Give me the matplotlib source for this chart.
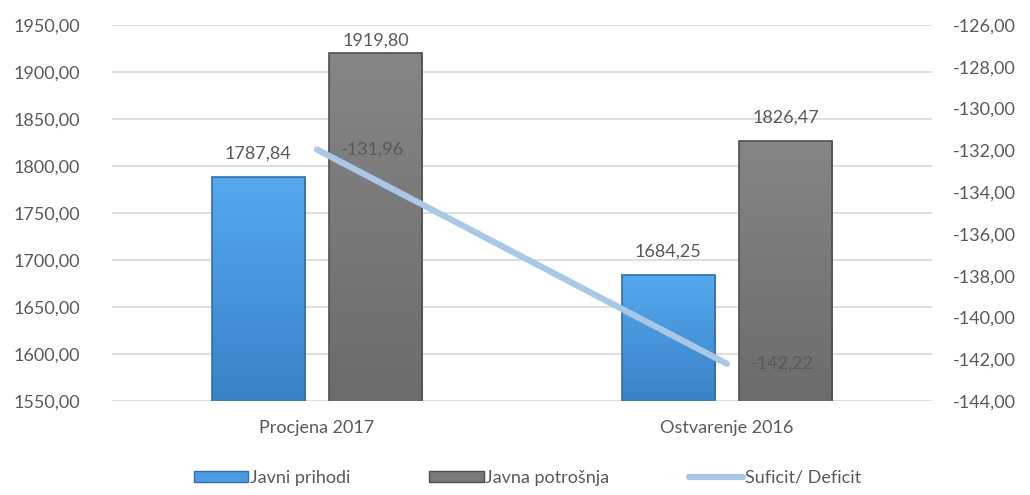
import numpy as np
import matplotlib
matplotlib.use("Agg")
from matplotlib import pyplot as plt
from matplotlib import ticker
from matplotlib.colors import LinearSegmentedColormap
from matplotlib.patches import Patch
from matplotlib.lines import Line2D

categories = ["Procjena 2017", "Ostvarenje 2016"]
javni_prihodi = [1787.84, 1684.25]
javna_potrosnja = [1919.80, 1826.47]
suficit_deficit = [-131.96, -142.22]

TEXT = "#595959"
BLUE = "#4a9be2"
BLUE_EDGE = "#2f6fae"
GRAY = "#7a7a7a"
GRAY_EDGE = "#4f4f4f"
LINE = "#a9c8e6"

plt.rcParams["font.family"] = ["Lato", "DejaVu Sans"]
FS = 13


def comma_fmt(v, _=None):
    return f"{v:.2f}".replace(".", ",")


def shade_bars(ax, bars, top, bottom):
    # vertical gradient inside each bar, clipped to the bar outline
    cmap = LinearSegmentedColormap.from_list("g", [bottom, top])
    grad = np.linspace(0, 1, 64).reshape(-1, 1)
    for b in bars:
        x0, y0 = b.get_x(), b.get_y()
        im = ax.imshow(grad, cmap=cmap, aspect="auto", origin="lower",
                       extent=[x0, x0 + b.get_width(), y0 if y0 > 1550 else 1550, y0 + b.get_height()],
                       zorder=2.1)
        im.set_clip_path(b)
        b.set_facecolor("none")
        b.set_zorder(2.2)


def main():
    fig = plt.figure(figsize=(10.3, 4.95), dpi=100)
    ax = fig.add_axes([0.1087, 0.19, 0.796, 0.7595])
    ax2 = ax.twinx()

    x = np.arange(len(categories))
    w = 0.227
    off = 0.143

    b1 = ax.bar(x - off, javni_prihodi, w, color=BLUE, edgecolor=BLUE_EDGE, linewidth=1.2, zorder=2)
    b2 = ax.bar(x + off, javna_potrosnja, w, color=GRAY, edgecolor=GRAY_EDGE, linewidth=1.2, zorder=2)

    ax.set_ylim(1550, 1950)
    ax.set_xlim(-0.5, 1.5)
    shade_bars(ax, b1, "#55a8ee", "#3a82c8")
    shade_bars(ax, b2, "#858585", "#6c6c6c")
    ax.set_ylim(1550, 1950)
    ax.set_xlim(-0.5, 1.5)
    ax.yaxis.set_major_locator(ticker.MultipleLocator(50))
    ax.yaxis.set_major_formatter(ticker.FuncFormatter(comma_fmt))
    ax.grid(axis="y", color="#d9d9d9", linewidth=1.2, zorder=0)
    ax.set_axisbelow(True)
    ax.set_xticks(x)
    ax.set_xticklabels(categories)
    ax.tick_params(axis="x", length=0, pad=14, labelsize=FS, labelcolor=TEXT)
    ax.tick_params(axis="y", length=0, pad=23, labelsize=FS, labelcolor=TEXT)

    for i in range(len(categories)):
        for vals, dx in ((javni_prihodi, -off), (javna_potrosnja, off)):
            v = vals[i]
            ax.text(x[i] + dx, min(v + 25, 1933), comma_fmt(v), ha="center", va="center",
                    fontsize=FS, color=TEXT, zorder=5)

    ax2.plot(x, suficit_deficit, color=LINE, linewidth=4.5, solid_capstyle="round", zorder=3)
    ax2.set_ylim(-144, -126)
    ax2.yaxis.set_major_locator(ticker.MultipleLocator(2))
    ax2.yaxis.set_major_formatter(ticker.FuncFormatter(comma_fmt))
    ax2.tick_params(axis="y", length=0, pad=15, labelsize=FS, labelcolor=TEXT)
    for xi, v in zip(x, suficit_deficit):
        ax2.annotate(comma_fmt(v), (xi, v), xytext=(17, 0), textcoords="offset points",
                     ha="left", va="center", fontsize=FS, color=TEXT)

    for a in (ax, ax2):
        for s in a.spines.values():
            s.set_visible(False)

    handles = [
        Patch(facecolor=BLUE, edgecolor=BLUE_EDGE),
        Patch(facecolor=GRAY, edgecolor=GRAY_EDGE),
        Line2D([0], [0], color=LINE, linewidth=4.5, solid_capstyle="round"),
    ]
    labels = ["Javni prihodi", "Javna potrošnja", "Suficit/ Deficit"]
    fig.legend(handles, labels, loc="center", bbox_to_anchor=(0.512, 0.035), ncol=3,
               frameon=False, fontsize=FS, labelcolor=TEXT, handlelength=3.0,
               handleheight=0.6, handletextpad=0.1, columnspacing=4.4)

    fig.savefig("out.png", dpi=100)


if __name__ == "__main__":
    main()
